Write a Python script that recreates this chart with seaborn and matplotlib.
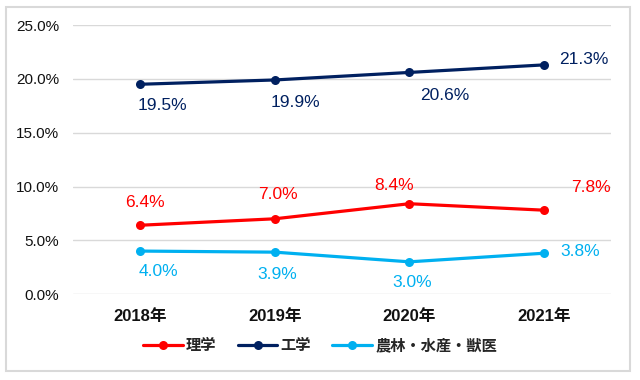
import matplotlib
matplotlib.use("Agg")
import matplotlib.pyplot as plt
import matplotlib.patches as mpatches
import pandas as pd
import seaborn as sns

# データ
years = ["2018年", "2019年", "2020年", "2021年"]
series_names = ["理学", "工学", "農林・水産・獣医"]
rigaku = [6.4, 7.0, 8.4, 7.8]
kogaku = [19.5, 19.9, 20.6, 21.3]
norin = [4.0, 3.9, 3.0, 3.8]
colors = ["#ff0000", "#002060", "#00b0f0"]

# ラベルの位置 (px, 点からのずれ)
label_offsets = [
    [(5, 23), (3, 24), (-15, 18), (47, 23)],
    [(22, -21), (21, -23), (35, -23), (40, 5)],
    [(18, -20), (2, -22), (3, -21), (36, 2)],
]

df = pd.DataFrame({
    "year": years * 3,
    "value": rigaku + kogaku + norin,
    "series": [s for s in series_names for _ in years],
})

sns.set_theme(style="white")
plt.rcParams["font.family"] = ["Liberation Sans", "Noto Sans CJK JP"]

fig = plt.figure(figsize=(6.4, 3.8), dpi=100)
ax = fig.add_axes([0.114, 0.226, 0.841, 0.708])

sns.lineplot(data=df, x="year", y="value", hue="series", hue_order=series_names,
             palette=colors, marker="o", markersize=6.5, markeredgewidth=0,
             linewidth=2.3, ax=ax, sort=False)

vals = [rigaku, kogaku, norin]
for k, serie in enumerate(vals):
    for i, v in enumerate(serie):
        dx, dy = label_offsets[k][i]
        ax.annotate(f"{v:.1f}%", xy=(i, v), xytext=(dx * 0.72, dy * 0.72),
                    textcoords="offset points", ha="center", va="center",
                    color=colors[k], fontsize=12.5)

ax.set_xlim(-0.5, 3.5)
ax.set_ylim(0, 25)
ax.set_yticks([0, 5, 10, 15, 20, 25])
ax.set_yticklabels([f"{t:.1f}%" for t in [0, 5, 10, 15, 20, 25]], fontsize=11, color="#111111")
ax.set_xticks(range(len(years)))
ax.set_xticklabels(years, fontsize=12, fontweight="bold", color="#111111")
ax.tick_params(axis="x", pad=11, length=0)
ax.tick_params(axis="y", pad=10, length=0)
ax.set_xlabel("")
ax.set_ylabel("")
ax.grid(axis="y", color="#d9d9d9", linewidth=1)
ax.set_axisbelow(True)
for sp in ax.spines.values():
    sp.set_visible(False)

leg = ax.legend(loc="center", bbox_to_anchor=(0.5, (380 - 346) / 380), bbox_transform=fig.transFigure,
                ncol=3, frameon=False, handlelength=2.6, handletextpad=0.2, columnspacing=1.4,
                prop={"size": 11, "weight": "bold"})

# 外枠
fig.patches.append(mpatches.Rectangle((6 / 640, 1 - 371 / 380), 624 / 640, 364 / 380,
                                      transform=fig.transFigure, fill=False,
                                      edgecolor="#d9d9d9", linewidth=1.5))

fig.savefig("out.png", dpi=100)
